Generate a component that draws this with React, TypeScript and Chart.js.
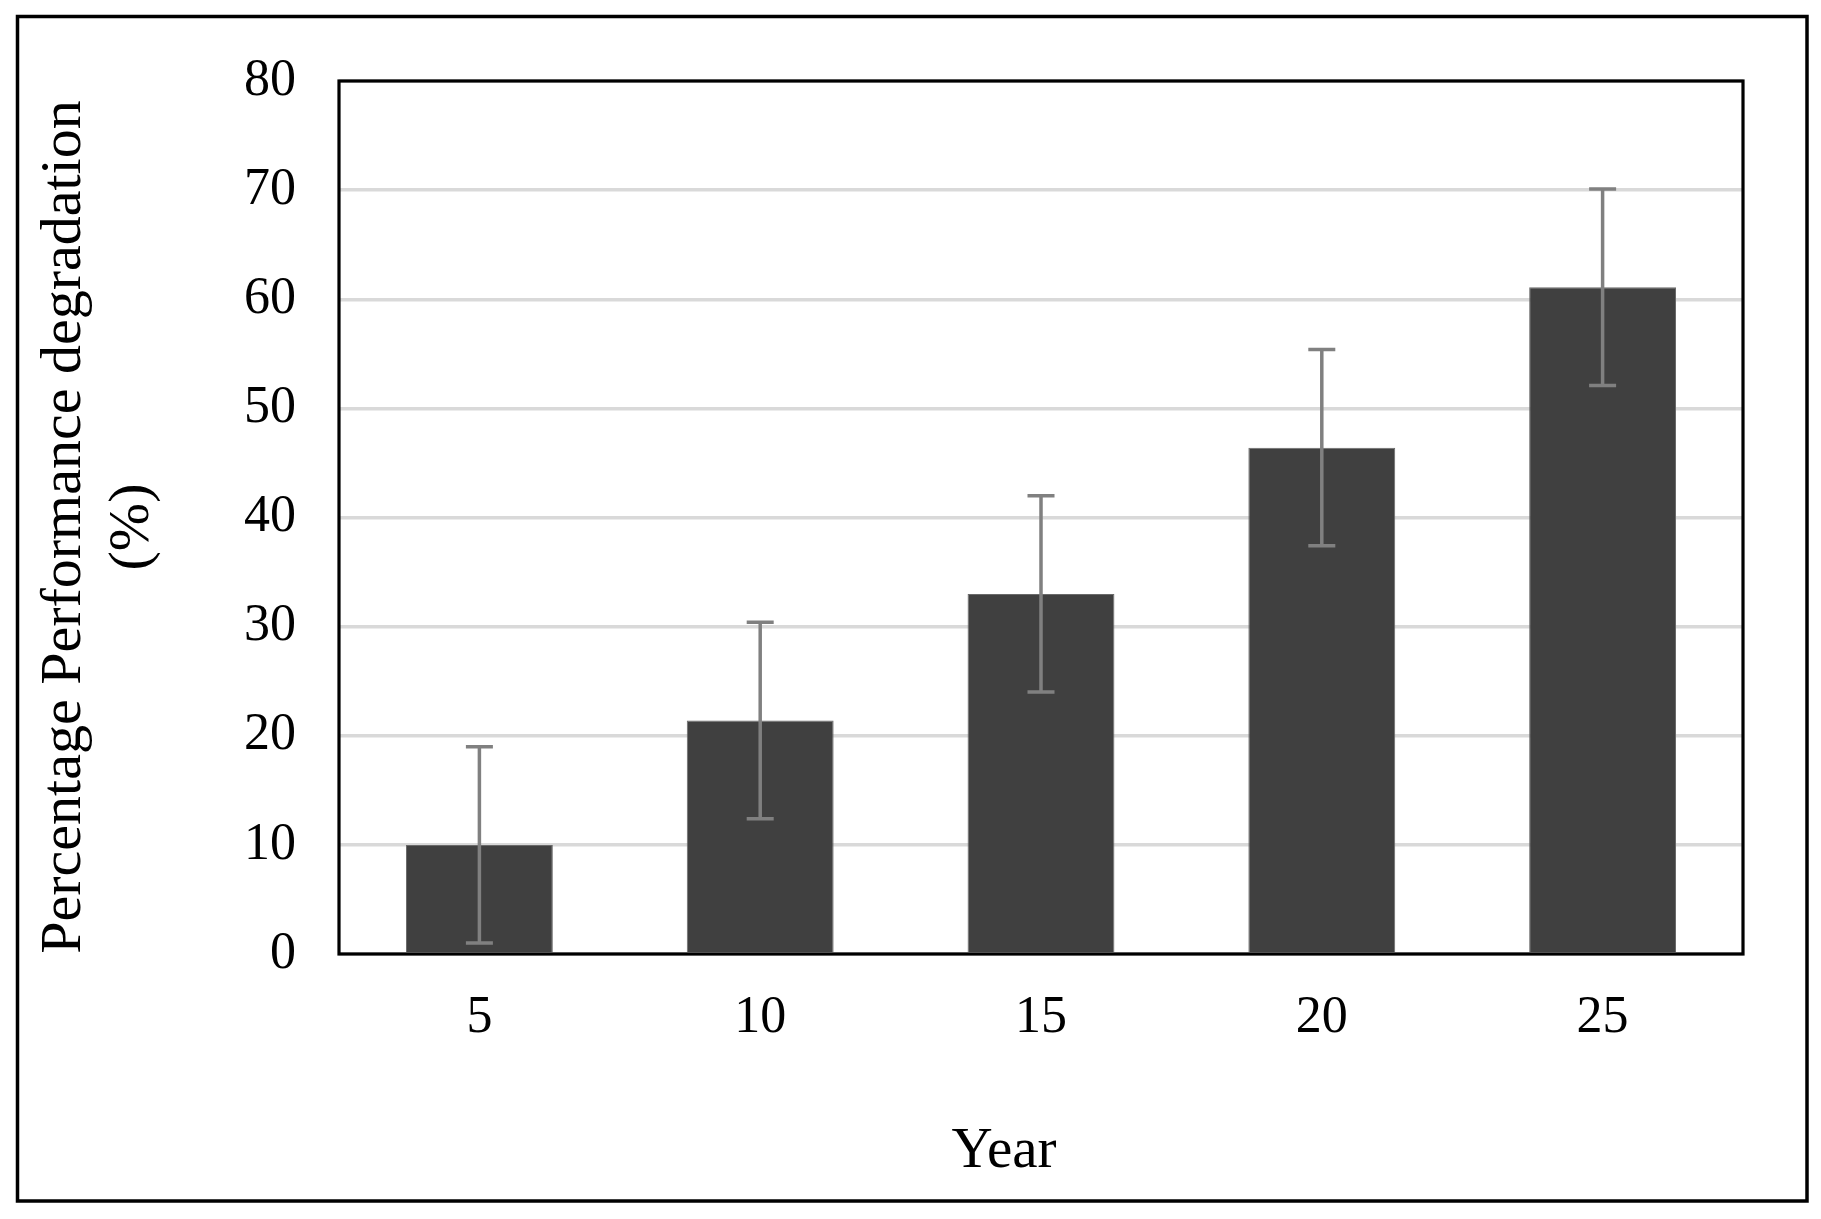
import React, { useEffect, useRef } from "react";
import { Chart, registerables } from "chart.js";

Chart.register(...registerables);

// ---- data ----
const years = ["5", "10", "15", "20", "25"];
const degradation = [10.0, 21.4, 33.0, 46.4, 61.1];
const errorMargins = [9.0, 9.0, 9.0, 9.0, 9.0];
const yMin = 0;
const yMax = 80;
const yStep = 10;

const xTitle = "Year";
const yTitle = ["Percentage Performance degradation", "(%)"];

const W = 1821;
const H = 1219;
const FONT = "'Liberation Serif', 'Times New Roman', Times, serif";

const errorBarPlugin = {
  id: "errorBars",
  afterDatasetsDraw(chart: any) {
    const meta = chart.getDatasetMeta(0);
    const yScale = chart.scales.y;
    const ctx = chart.ctx;
    ctx.save();
    ctx.strokeStyle = "#808080";
    ctx.lineWidth = 3.5;
    ctx.lineCap = "butt";
    const capHalf = 13.5;
    meta.data.forEach((bar: any, i: number) => {
      const x = bar.x;
      const top = yScale.getPixelForValue(degradation[i] + errorMargins[i]);
      const bot = yScale.getPixelForValue(degradation[i] - errorMargins[i]);
      ctx.beginPath();
      ctx.moveTo(x, top);
      ctx.lineTo(x, bot);
      ctx.moveTo(x - capHalf, top);
      ctx.lineTo(x + capHalf, top);
      ctx.moveTo(x - capHalf, bot);
      ctx.lineTo(x + capHalf, bot);
      ctx.stroke();
    });
    ctx.restore();
  },
};

// Axis titles placed as in the original (Excel's manual placement, not centred on the plot)
const axisTitlePlugin = {
  id: "axisTitles",
  afterDraw(chart: any) {
    const ctx = chart.ctx;
    ctx.save();
    ctx.fillStyle = "#000000";
    ctx.textAlign = "center";
    ctx.textBaseline = "middle";
    // x title
    ctx.font = `57px ${FONT}`;
    ctx.fillText(xTitle, 1004, 1152);
    // y title (rotated, two lines)
    ctx.font = `58px ${FONT}`;
    ctx.translate(65, 527);
    ctx.rotate(-Math.PI / 2);
    const lh = 68;
    yTitle.forEach((line, i) => {
      ctx.fillText(line, 0, i * lh);
    });
    ctx.restore();
  },
};

const framePlugin = {
  id: "frames",
  beforeDraw(chart: any) {
    const ctx = chart.ctx;
    ctx.save();
    ctx.fillStyle = "#ffffff";
    ctx.fillRect(0, 0, chart.width, chart.height);
    ctx.restore();
  },
  afterDraw(chart: any) {
    const ctx = chart.ctx;
    const a = chart.chartArea;
    ctx.save();
    ctx.strokeStyle = "#000000";
    ctx.lineWidth = 3.2;
    ctx.strokeRect(a.left, a.top, a.right - a.left, a.bottom - a.top);
    ctx.lineWidth = 3.5;
    ctx.strokeRect(17.5, 16.5, 1789.5, 1184.5);
    ctx.restore();
  },
};

export default function App() {
  const ref = useRef<HTMLCanvasElement | null>(null);

  useEffect(() => {
    if (!ref.current) return;
    const chart = new Chart(ref.current, {
      type: "bar",
      data: {
        labels: years,
        datasets: [
          {
            label: "Percentage performance degradation",
            data: degradation,
            backgroundColor: "#404040",
            borderColor: "#6a6a6a",
            borderWidth: 1,
            barPercentage: 0.523,
            categoryPercentage: 1,
          },
        ],
      },
      plugins: [errorBarPlugin, framePlugin, axisTitlePlugin],
      options: {
        responsive: false,
        animation: false,
        devicePixelRatio: 1,
        layout: { padding: { top: 81, right: 78, left: 0, bottom: 0 } },
        plugins: {
          legend: { display: false },
          tooltip: { enabled: false },
        },
        scales: {
          x: {
            grid: { display: false, drawTicks: false },
            border: { display: false },
            ticks: {
              color: "#000000",
              font: { family: FONT, size: 52 },
              padding: 33,
            },
            title: { display: false, text: xTitle },
            afterFit(scale: any) {
              scale.height = 265;
            },
          },
          y: {
            min: yMin,
            max: yMax,
            grid: { color: "#d9d9d9", lineWidth: 3.5, drawTicks: false },
            border: { display: false },
            ticks: {
              stepSize: yStep,
              color: "#000000",
              font: { family: FONT, size: 52 },
              padding: 43,
            },
            title: { display: false, text: yTitle },
            afterFit(scale: any) {
              scale.width = 339;
            },
          },
        },
      },
    });
    return () => chart.destroy();
  }, []);

  return (
    <div style={{ position: "absolute", left: 0, top: 0, width: W, height: H, background: "#fff" }}>
      <canvas ref={ref} width={W} height={H} style={{ width: W, height: H, display: "block" }} />
    </div>
  );
}
